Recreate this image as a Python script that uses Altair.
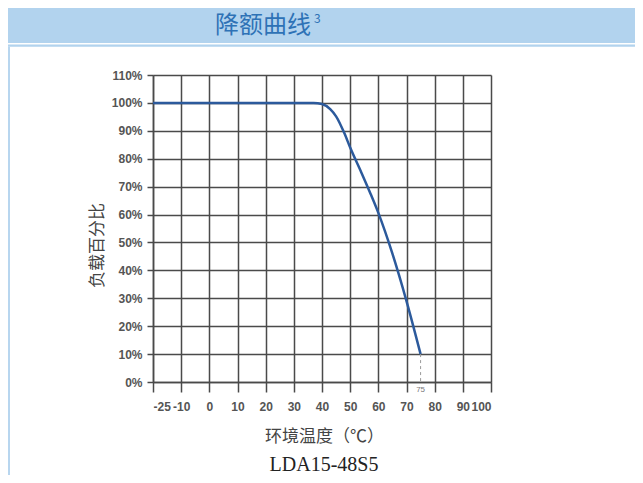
import altair as alt
import pandas as pd

# ---- data ----
temps = [-25, -10, 0, 10, 20, 30, 37, 40, 43, 45, 48, 50, 54, 57, 60, 65, 70, 75]
loads = [100, 100, 100, 100, 100, 100, 100, 99.6, 97.7, 95.2, 89, 84, 75, 68, 60.6, 46, 29, 10]
x_ticks = [-25, -10, 0, 10, 20, 30, 40, 50, 60, 70, 80, 90, 100]
y_ticks = [0, 10, 20, 30, 40, 50, 60, 70, 80, 90, 100, 110]
end_temp = [75]
end_load = [10]
end_label = ["75"]

title_text = "降额曲线"
title_sup = "3"
y_title = "负载百分比"
x_title = "环境温度（℃）"
caption = "LDA15-48S5"

W, H = 338, 307

curve = pd.DataFrame({"t": temps, "p": loads})
endpt = pd.DataFrame({"t": end_temp, "p": end_load, "zero": [0], "lab": end_label})
one = pd.DataFrame({"k": [0]})

grid_col = "#4a4a4a"
label_font = "Liberation Sans"

xscale = alt.Scale(domain=[-25, -10, 100], range=[0, W / 12, W])
yscale = alt.Scale(domain=[0, 110], nice=False, zero=False)

xaxis = alt.Axis(
    values=x_ticks, labelExpr="'' + datum.value", grid=True, gridColor=grid_col, gridWidth=1.5,
    domainColor=grid_col, domainWidth=1.5, tickColor=grid_col, tickWidth=1.5,
    tickSize=10, labelPadding=9, labelFontSize=12, labelColor="#555",
    labelFont=label_font, labelFontWeight="bold", labelOverlap=False,
    title=x_title, titleFont="Noto Sans CJK SC", titleFontSize=17,
    titleFontWeight="normal", titleColor="#444",
    titleX=171, titleY=54, titleBaseline="middle", titleAlign="center",
)
yaxis = alt.Axis(
    values=y_ticks, labelExpr="datum.value + '%'", grid=True, gridColor=grid_col,
    gridWidth=1.5, domainColor=grid_col, domainWidth=1.5, tickColor=grid_col,
    tickWidth=1.5, tickSize=6, labelPadding=5, labelFontSize=12, labelColor="#555",
    labelFont=label_font, labelFontWeight="bold", labelOverlap=False,
    title=y_title, titleFont="Noto Sans CJK SC", titleFontSize=17,
    titleFontWeight="normal", titleColor="#444",
    titleX=-56, titleY=170, titleAngle=270, titleBaseline="middle", titleAlign="center",
)

line = alt.Chart(curve).mark_line(color="#2c5a9c", strokeWidth=2.5, interpolate="monotone").encode(
    x=alt.X("t:Q", scale=xscale, axis=xaxis),
    y=alt.Y("p:Q", scale=yscale, axis=yaxis),
)

dash = alt.Chart(endpt).mark_rule(color="#999", strokeDash=[3, 3], strokeWidth=1).encode(
    x=alt.X("t:Q", scale=xscale, axis=xaxis),
    y=alt.Y("p:Q", scale=yscale, axis=yaxis),
    y2="zero:Q",
)

endlab = alt.Chart(endpt).mark_text(fontSize=8, color="#777", font=label_font, baseline="middle").encode(
    x=alt.X("t:Q", scale=xscale, axis=xaxis),
    y=alt.value(315),
    text="lab:N",
)

band = alt.Chart(one).mark_rect(color="#b2d3ee").encode(
    x=alt.value(-145), x2=alt.value(490), y=alt.value(-67), y2=alt.value(-32)
)
band_line = alt.Chart(one).mark_rect(color="#b2d3ee").encode(
    x=alt.value(-145), x2=alt.value(490), y=alt.value(-30.5), y2=alt.value(-28.3)
)
left_border = alt.Chart(one).mark_rect(color="#b8d6ef").encode(
    x=alt.value(-145), x2=alt.value(-143), y=alt.value(-28.3), y2=alt.value(400)
)

title = alt.Chart(one).mark_text(
    text=title_text, font="Noto Sans CJK SC", fontSize=24, color="#2e72b6",
    align="center", baseline="middle"
).encode(x=alt.value(110), y=alt.value(-49.5))
sup = alt.Chart(one).mark_text(
    text=title_sup, font="Noto Sans CJK SC", fontSize=12, color="#2e72b6",
    align="left", baseline="middle"
).encode(x=alt.value(161), y=alt.value(-56))
cap = alt.Chart(one).mark_text(
    text=caption, font="Liberation Serif", fontSize=20, color="#222",
    align="center", baseline="alphabetic"
).encode(x=alt.value(171), y=alt.value(396))

chart = alt.layer(band, band_line, left_border, title, sup, cap, line, dash, endlab).properties(
    width=W, height=H,
    autosize=alt.AutoSizeParams(type="none"),
    padding={"left": 145, "top": 67, "right": 144, "bottom": 93},
    background="white",
).configure_view(stroke=None)

chart.save("out.html", embed_options={"renderer": "svg", "actions": False})
